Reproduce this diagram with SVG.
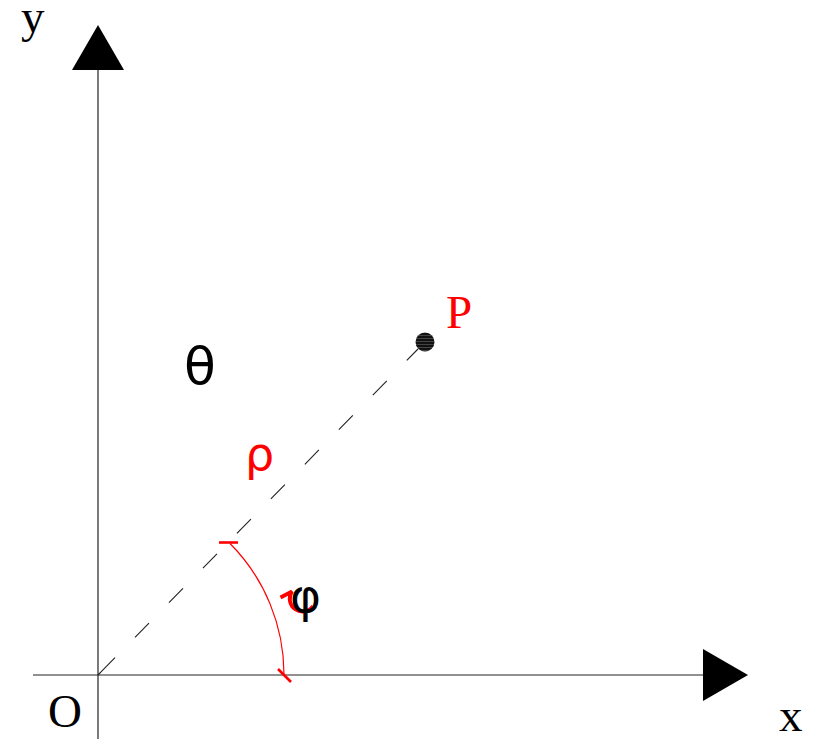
<svg xmlns="http://www.w3.org/2000/svg" width="813" height="739" viewBox="0 0 813 739">
<style>
.axis{stroke:#222;stroke-width:1.2;fill:none}
.head{fill:#000;stroke:none}
.serif{font-family:"Liberation Serif","Times New Roman",serif;font-size:47px}
.sans{font-family:"DejaVu Sans","Noto Sans",sans-serif}
.red{fill:#ff0000}
.blk{fill:#000}
.ray{stroke:#222;stroke-width:1.1;fill:none;stroke-dasharray:20 28.5}
.arc{stroke:#ff0000;stroke-width:1.2;fill:none}
.tick{stroke:#ff0000;stroke-width:2.6;fill:none}
</style>
<defs>
<pattern id="hatch" width="4" height="3" patternUnits="userSpaceOnUse">
<rect width="4" height="3" fill="#111"/>
<line x1="0" y1="2.5" x2="4" y2="2.5" stroke="#666" stroke-width="0.6"/>
</pattern>
</defs>
<rect width="813" height="739" fill="#fff"/>
<g id="y-axis">
<line class="axis" x1="98" y1="739" x2="98" y2="70"/>
<polygon class="head" points="98,25 124,70 72,70"/>
<text class="serif blk" x="21" y="32" font-size="46">y</text>
</g>
<g id="x-axis">
<line class="axis" x1="33" y1="675" x2="703" y2="675"/>
<polygon class="head" points="748,675 703,649 703,701"/>
<text class="serif blk" x="779" y="731">x</text>
</g>
<g id="origin">
<text class="serif blk" x="48" y="727">O</text>
</g>
<g id="point-P">
<circle cx="425" cy="342" r="9.5" fill="url(#hatch)"/>
<text class="serif red" x="446" y="328" font-size="46">P</text>
</g>
<g id="label-theta">
<text class="sans blk" x="184" y="384" font-size="52">θ</text>
</g>
<g id="label-rho">
<text class="sans red" x="245" y="470" font-size="46">ρ</text>
</g>
<g id="label-phi">
<path d="M280.5,597.5 L292,591.5 A12,12 0 0 0 313,606" stroke="#ff0000" stroke-width="3.8" fill="none"/>
<text class="sans blk" x="290" y="612" font-size="47">φ</text>
</g>
<g id="connectors">
<line x1="98" y1="675" x2="101" y2="672" stroke="#222" stroke-width="1.1"/>
<line class="ray" x1="98" y1="675" x2="418" y2="349" stroke-dashoffset="44.2"/>
<path class="arc" d="M230,543.5 A186,186 0 0 1 284,675"/>
<line class="tick" x1="219" y1="542.5" x2="238" y2="542.5"/>
<line class="tick" x1="278" y1="669" x2="291" y2="682"/>
</g>
</svg>
